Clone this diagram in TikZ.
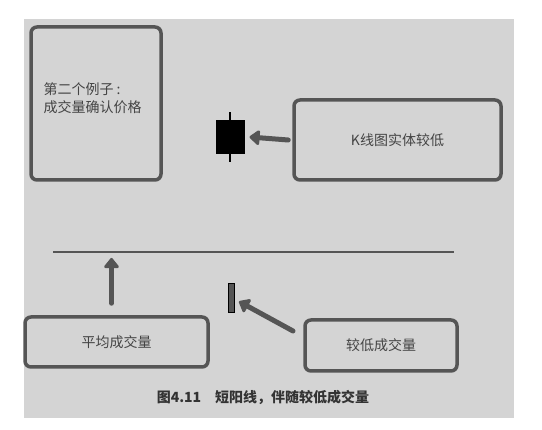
\documentclass[tikz,border=0pt]{standalone}
\usepackage{fontspec}
\newfontfamily\cjk{Noto Sans CJK SC}
\usetikzlibrary{arrows.meta, positioning}

\definecolor{panel}{HTML}{D4D4D4}
\definecolor{frame}{HTML}{555555}
\definecolor{ink}{HTML}{444444}

\begin{document}
\begin{tikzpicture}[
  x=1pt, y=-1pt,
  box/.style={draw=frame, line width=3.5pt, rounded corners=6pt, fill=panel,
    text=ink, font=\cjk\fontsize{14}{18}\selectfont},
  fat/.style={-{Triangle[width=17pt,length=11pt,round]}, line width=5pt,
    line cap=round, draw=frame},
  bar/.style={draw=black, line width=1pt, inner sep=0pt}
]
\useasboundingbox (0,0) rectangle (542,430);
\fill[panel] (24,19) rectangle (514,418);

\node[box, minimum width=130pt, minimum height=153pt] (example) at (96,103.5) {};
\node[ink, font=\cjk\fontsize{14}{18}\selectfont, align=left, anchor=north west]
  (exampletext) at (40,79) {第二个例子 :\\成交量确认价格};
\node[box, minimum width=207pt, minimum height=80pt] (kline) at (397.5,140) {K线图实体较低};

\node[bar, fill=black, minimum width=28pt, minimum height=33pt] (candle) at (230,137) {};
\draw[line width=1.5pt] (candle.north) -- ++(0,-8);
\draw[line width=1.5pt] (candle.south) -- ++(0,8);
\draw[fat] ([xshift=-4pt]kline.west) -- ([xshift=5pt]candle.east);

% volume part
\coordinate (lineleft) at (53,252);
\coordinate (lineright) at (454,252);
\draw[frame, line width=1.5pt] (lineleft) -- (lineright);

\node[box, minimum width=183pt, minimum height=50pt] (avgvol) at (116.5,342) {平均成交量};
\node[box, minimum width=152pt, minimum height=51pt] (lowvol) at (381,345.5) {较低成交量};
\node[bar, fill=frame, minimum width=6pt, minimum height=29pt] (volbar) at (231.5,298.5) {};

\draw[fat] ([xshift=-5pt,yshift=12pt]avgvol.north) -- ([xshift=-5pt,yshift=-6pt]lineleft -| avgvol.north);
\coordinate (lowtail) at (293,331);
\draw[fat] (lowtail) -- ([xshift=4pt,yshift=-3pt]volbar.east);

\node[text=black!80, font=\cjk\bfseries\fontsize{14}{16}\selectfont] (caption) at (263,397)
  {图4.11\quad 短阳线，伴随较低成交量};
\end{tikzpicture}
\end{document}
